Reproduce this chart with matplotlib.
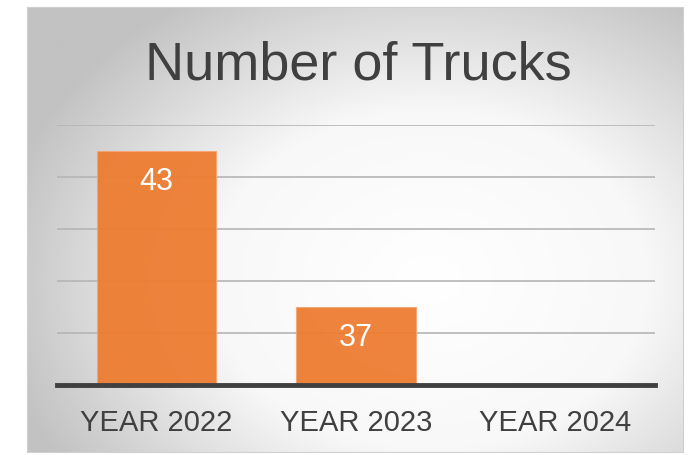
import numpy as np
import matplotlib
matplotlib.use("Agg")
import matplotlib.pyplot as plt
from matplotlib.colors import LinearSegmentedColormap

# data
categories = ["YEAR 2022", "YEAR 2023", "YEAR 2024"]
trucks = [43, 37, np.nan]
label_text = ["43", "37", ""]
y_min, y_max = 34, 44
grid_ticks = [36, 38, 40, 42, 44]

W, H = 688, 455
fig = plt.figure(figsize=(W / 100, H / 100), dpi=100)
fig.patch.set_facecolor("white")
font = ["Liberation Sans", "DejaVu Sans"]

# grey panel with radial gradient behind the chart
bg = fig.add_axes([0, 0, 1, 1])
bg.set_xlim(0, W)
bg.set_ylim(H, 0)
bg.axis("off")
px0, px1, py0, py1 = 27, 683, 7, 452
gx, gy = np.meshgrid(np.linspace(px0, px1, 400), np.linspace(py0, py1, 300))
cx, cy = 430, 280
r = np.sqrt(((gx - cx) / 440) ** 2 + ((gy - cy) / 340) ** 2)
r = np.clip(r, 0, 1)
cmap = LinearSegmentedColormap.from_list("panel", ["#ffffff", "#f8f8f8", "#c2c2c2"])
bg.imshow(r, cmap=cmap, vmin=0, vmax=1, extent=[px0, px1, py1, py0],
          aspect="auto", interpolation="bilinear")
bg.plot([px0, px1, px1, px0, px0], [py0, py0, py1, py1, py0], color="#d0d0d0", lw=0.8)

ax = fig.add_axes([57 / W, (H - 385) / H, (655 - 57) / W, (385 - 125) / H])
ax.set_facecolor("none")

x = np.arange(len(categories))
bars = ax.bar(x, trucks, width=0.6, bottom=0, color="#ED7D31", edgecolor="#f4a677",
              linewidth=0.8, zorder=3, alpha=0.95)
ax.set_xlim(-0.5, 2.5)
ax.set_ylim(y_min, y_max)
ax.set_yticks(grid_ticks)
ax.yaxis.grid(True, color="#b5b5b5", linewidth=1.2, zorder=0)
ax.tick_params(axis="y", left=False, labelleft=False)
for s in ["left", "right", "top"]:
    ax.spines[s].set_visible(False)
ax.spines["bottom"].set_color("#404040")
ax.spines["bottom"].set_linewidth(3.5)
ax.spines["bottom"].set_zorder(4)

ax.set_xticks(x)
ax.set_xticklabels(categories, family=font, fontsize=21, color="#404040")
ax.tick_params(axis="x", length=0, pad=17)

for xi, v, t in zip(x, trucks, label_text):
    if t:
        ax.annotate(t, (xi, v), xytext=(0, -22), textcoords="offset points",
                    ha="center", va="center", color="white", fontsize=22,
                    family=font, zorder=5)

fig.text(358 / W, (H - 80) / H, "Number of Trucks", ha="center", va="baseline",
         fontsize=39, color="#404040", family=font)

fig.savefig("out.png", dpi=100)
